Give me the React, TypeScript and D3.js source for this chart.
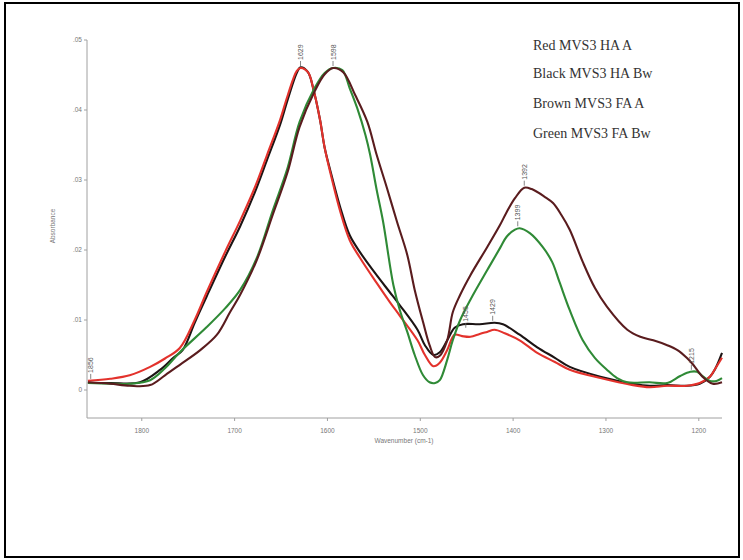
import React from "react";
import * as d3 from "d3";

// ---- Data (wavenumber cm-1, absorbance) ----
const redW = [1858,1834,1813,1791,1775,1759,1743,1730,1710,1694,1678,1665,1651,1643,1633,1629,1621,1615,1608,1603,1597,1586,1576,1565,1547,1533,1522,1503,1495,1486,1479,1471,1463,1455,1446,1436,1428,1420,1409,1393,1374,1355,1339,1306,1271,1253,1234,1213,1199,1188,1182,1175];
const redA = [.0013,.0016,.0021,.0033,.0045,.0060,.0100,.0140,.0198,.0242,.0290,.0336,.0386,.0420,.0456,.0460,.0454,.0429,.0386,.0346,.0311,.0254,.0214,.0189,.0153,.0126,.0106,.0071,.0050,.0034,.0039,.0057,.0079,.0077,.0076,.0080,.0083,.0086,.0081,.0071,.0053,.0040,.0029,.0017,.0007,.0004,.0006,.0006,.0010,.0019,.0031,.0046];

const blackW = [1858,1834,1802,1780,1766,1756,1743,1730,1710,1694,1678,1665,1651,1643,1633,1629,1621,1615,1608,1603,1597,1586,1576,1565,1547,1533,1522,1503,1495,1486,1479,1471,1463,1454,1436,1420,1411,1393,1374,1355,1339,1306,1271,1253,1234,1213,1199,1188,1182,1175];
const blackA = [.0010,.0010,.0011,.0029,.0046,.0057,.0096,.0134,.0191,.0234,.0283,.0329,.0379,.0414,.0453,.0461,.0454,.0429,.0386,.0346,.0314,.0260,.0221,.0197,.0164,.0140,.0121,.0086,.0064,.0050,.0054,.0071,.0089,.0094,.0094,.0096,.0094,.0079,.0061,.0046,.0033,.0019,.0009,.0006,.0007,.0006,.0009,.0019,.0031,.0053];

const brownW = [1858,1834,1813,1791,1775,1759,1737,1719,1705,1694,1676,1659,1643,1630,1614,1603,1594,1583,1570,1557,1547,1536,1525,1514,1506,1497,1490,1484,1479,1471,1465,1457,1446,1428,1414,1407,1398,1388,1380,1366,1357,1348,1339,1325,1312,1299,1277,1263,1249,1234,1223,1213,1206,1196,1185,1175];
const brownA = [.0011,.0009,.0006,.0007,.0021,.0036,.0057,.0079,.0111,.0136,.0186,.0250,.0311,.0376,.0426,.0451,.0460,.0454,.0421,.0383,.0336,.0289,.0240,.0193,.0143,.0097,.0064,.0047,.0049,.0071,.0111,.0136,.0164,.0204,.0236,.0254,.0274,.0289,.0287,.0276,.0267,.0250,.0229,.0183,.0146,.0119,.0086,.0076,.0071,.0064,.0057,.0046,.0036,.0019,.0009,.0011];

const greenW = [1858,1834,1813,1791,1775,1759,1730,1710,1694,1676,1659,1643,1630,1614,1603,1594,1584,1576,1568,1559,1554,1547,1540,1529,1522,1514,1506,1497,1490,1484,1479,1471,1465,1457,1446,1428,1414,1407,1398,1393,1382,1368,1358,1350,1339,1325,1312,1299,1288,1277,1253,1234,1220,1209,1202,1196,1188,1181,1175];
const greenA = [.0010,.0009,.0009,.0014,.0031,.0054,.0090,.0117,.0143,.0189,.0256,.0317,.0383,.0431,.0453,.0460,.0457,.0431,.0403,.0364,.0336,.0286,.0240,.0150,.0114,.0083,.0050,.0021,.0011,.0010,.0014,.0043,.0071,.0100,.0129,.0171,.0203,.0219,.0229,.0231,.0224,.0204,.0183,.0154,.0114,.0071,.0046,.0029,.0017,.0011,.0011,.0010,.0020,.0026,.0026,.0020,.0013,.0013,.0017];

const legendLabels = ["Red MVS3 HA A", "Black MVS3 HA Bw", "Brown MVS3 FA A", "Green MVS3 FA Bw"];

const xTicks = [1800, 1700, 1600, 1500, 1400, 1300, 1200];
const yTicks = [0, 0.01, 0.02, 0.03, 0.04, 0.05];
const yTickLabels = ["0", ".01", ".02", ".03", ".04", ".05"];

const peakLabels = ["1856", "1629", "1598", "1392", "1399", "1429", "1455", "1215"];
const peakW = [1855, 1629, 1594, 1388, 1395, 1422, 1451, 1208];
const peakA = [0.0013, 0.0460, 0.0460, 0.0289, 0.0231, 0.0096, 0.0086, 0.0026];

// ---- Styles ----
const seriesStyles = [
  { w: blackW, a: blackA, color: "#1c1414" },
  { w: redW, a: redA, color: "#e3322c" },
  { w: greenW, a: greenA, color: "#2f8a36" },
  { w: brownW, a: brownA, color: "#5a1c1e" },
];

export default function App() {
  const x = d3.scaleLinear().domain([1859, 1175]).range([87, 722]);
  const y = d3.scaleLinear().domain([-0.004, 0.05]).range([418, 40]);
  const line = d3
    .line<[number, number]>()
    .x((d) => x(d[0]))
    .y((d) => y(d[1]))
    .curve(d3.curveCatmullRom.alpha(0.5));

  const axisColor = "#a0a0a0";
  const tickText = "#777";
  const legendY = [50, 78, 108, 138];

  return (
    <svg
      width={743}
      height={560}
      style={{ position: "absolute", left: 0, top: 0, background: "#fff" }}
      fontFamily="Liberation Sans, Arial, sans-serif"
    >
      <rect x={0} y={0} width={743} height={560} fill="#fff" />
      <rect x={5} y={3} width={734} height={554} fill="none" stroke="#000" strokeWidth={2} />

      {/* axes */}
      <line x1={87} x2={87} y1={40} y2={418} stroke={axisColor} strokeWidth={1} />
      <line x1={87} x2={722} y1={418} y2={418} stroke={axisColor} strokeWidth={1} />
      {yTicks.map((t, i) => (
        <g key={"yt" + i}>
          <line x1={84} x2={87} y1={y(t)} y2={y(t)} stroke={axisColor} />
          <text x={82} y={y(t) + 2} fontSize={6.5} fill={tickText} textAnchor="end">
            {yTickLabels[i]}
          </text>
        </g>
      ))}
      {xTicks.map((t) => (
        <g key={"xt" + t}>
          <line x1={x(t)} x2={x(t)} y1={418} y2={421} stroke={axisColor} />
          <text x={x(t)} y={433} fontSize={6.5} fill={tickText} textAnchor="middle">
            {t}
          </text>
        </g>
      ))}
      <text x={404} y={443} fontSize={6.5} fill={tickText} textAnchor="middle">
        Wavenumber (cm-1)
      </text>
      <text
        transform={`translate(55,226) rotate(-90)`}
        fontSize={6.5}
        fill={tickText}
        textAnchor="middle"
      >
        Absorbance
      </text>

      {/* series */}
      {seriesStyles.map((s, i) => (
        <path
          key={"s" + i}
          d={line(s.w.map((w, j) => [w, s.a[j]] as [number, number])) || ""}
          fill="none"
          stroke={s.color}
          strokeWidth={2.1}
          strokeLinejoin="round"
        />
      ))}

      {/* peak labels */}
      {peakLabels.map((lab, i) => {
        const px = x(peakW[i]);
        const py = y(peakA[i]);
        return (
          <g key={"pk" + i}>
            <line x1={px} x2={px} y1={py - 2} y2={py - 7} stroke="#666" strokeWidth={0.8} />
            <text
              transform={`translate(${px + 2.5},${py - 8}) rotate(-90)`}
              fontSize={7}
              fill="#555"
              textAnchor="start"
            >
              {lab}
            </text>
          </g>
        );
      })}

      {/* legend */}
      {legendLabels.map((l, i) => (
        <text
          key={"lg" + i}
          x={533}
          y={legendY[i]}
          fontSize={14}
          fontFamily="Liberation Serif, Times New Roman, serif"
          fill="#333"
        >
          {l}
        </text>
      ))}
    </svg>
  );
}
